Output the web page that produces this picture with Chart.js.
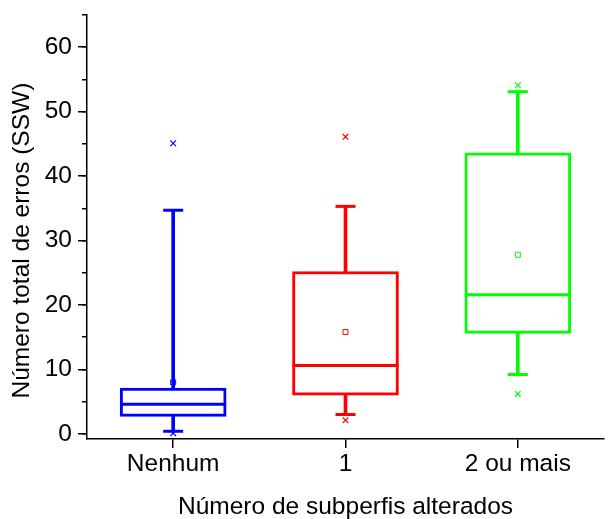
<!DOCTYPE html>
<html>
<head>
<meta charset="utf-8">
<script src="https://cdn.jsdelivr.net/npm/chart.js@4"></script>
<style>
html,body{margin:0;padding:0;background:#fff;}
#wrap{width:609px;height:519px;}
</style>
</head>
<body>
<div id="wrap"><canvas id="c" width="609" height="519"></canvas></div>
<script>
const categories = ['Nenhum', '1', '2 ou mais'];
const colors = ['#0000FF', '#FF0000', '#00FF00'];
const whiskerLow  = [0.4, 3.0, 9.2];
const q1          = [2.7, 6.0, 15.6];
const median      = [4.6, 10.6, 21.6];
const q3          = [7.1, 25.2, 43.6];
const whiskerHigh = [34.7, 35.3, 53.1];
const means       = [8.0, 15.8, 27.8];
const outlierHigh = [45.1, 46.1, 54.1];
const outlierLow  = [0.1, 2.1, 6.2];
const yTitle = 'Número total de erros (SSW)';
const xTitle = 'Número de subperfis alterados';

const FONT = 'Liberation Sans, Arial, sans-serif';
const FS = 24.5;

const boxData = categories.map((_, i) => [q1[i], q3[i]]);
const whiskerData = categories.map((_, i) => [whiskerLow[i], whiskerHigh[i]]);

function pointSet(data, style, radius, bw, order) {
  return {
    type: 'line', data: data, showLine: false, order: order,
    pointStyle: style, pointRadius: radius, pointHoverRadius: radius,
    pointBorderWidth: bw, pointHoverBorderWidth: bw,
    pointBorderColor: colors, pointBackgroundColor: 'rgba(0,0,0,0)'
  };
}

new Chart(document.getElementById('c'), {
  data: {
    labels: categories,
    datasets: [
      { type: 'bar', data: whiskerData, grouped: false, order: 3,
        barThickness: 3, backgroundColor: colors, borderWidth: 0 },
      { type: 'bar', data: boxData, grouped: false, order: 2,
        barThickness: 106, backgroundColor: '#ffffff', borderColor: colors,
        borderWidth: 3, borderSkipped: false },
      pointSet(median, 'line', 53, 3, 1),
      pointSet(whiskerHigh, 'line', 10, 3, 1),
      pointSet(whiskerLow, 'line', 10, 3, 1),
      pointSet(means, 'rect', 3.5, 1, 0),
      pointSet(outlierHigh, 'crossRot', 4, 1.2, 0),
      pointSet(outlierLow, 'crossRot', 4, 1.2, 0)
    ]
  },
  options: {
    responsive: false,
    animation: false,
    events: [],
    layout: { autoPadding: false, padding: { top: 15, right: 5, left: 0, bottom: 0 } },
    plugins: { legend: { display: false }, tooltip: { enabled: false } },
    scales: {
      x: {
        type: 'category',
        offset: true,
        grid: { display: true, offset: false, drawOnChartArea: false, drawTicks: true,
                tickLength: 9, color: '#000', lineWidth: 1.5 },
        border: { display: true, color: '#000', width: 1.5 },
        ticks: { color: '#000', padding: 2, font: { family: FONT, size: FS } },
        title: { display: true, text: xTitle, color: '#000',
                 font: { family: FONT, size: FS, lineHeight: 1.0 }, padding: { top: 0, bottom: 0 } },
        afterFit: (s) => { s.height = 80; }
      },
      y: {
        type: 'linear', position: 'left', weight: 1,
        min: -0.8, max: 65,
        grid: { display: true, drawOnChartArea: false, drawTicks: true, tickLength: 9,
                color: '#000', lineWidth: 1.5 },
        border: { display: true, color: '#000', width: 1.5 },
        ticks: { stepSize: 10, includeBounds: false, color: '#000', padding: 6,
                 font: { family: FONT, size: FS, lineHeight: 0.6 } },
        title: { display: true, text: yTitle + '    ', color: '#000',
                 font: { family: FONT, size: FS }, padding: { top: 8, bottom: 0 } },
        afterFit: (s) => { s.width = 87; }
      },
      y2: {
        type: 'linear', position: 'left', weight: 0,
        min: -0.8, max: 65,
        grid: { display: true, drawOnChartArea: false, drawTicks: true, tickLength: 5,
                color: '#000', lineWidth: 1.5 },
        border: { display: false },
        ticks: { stepSize: 5, includeBounds: false, display: false },
        afterFit: (s) => { s.width = 0; }
      }
    }
  }
});
</script>
</body>
</html>
